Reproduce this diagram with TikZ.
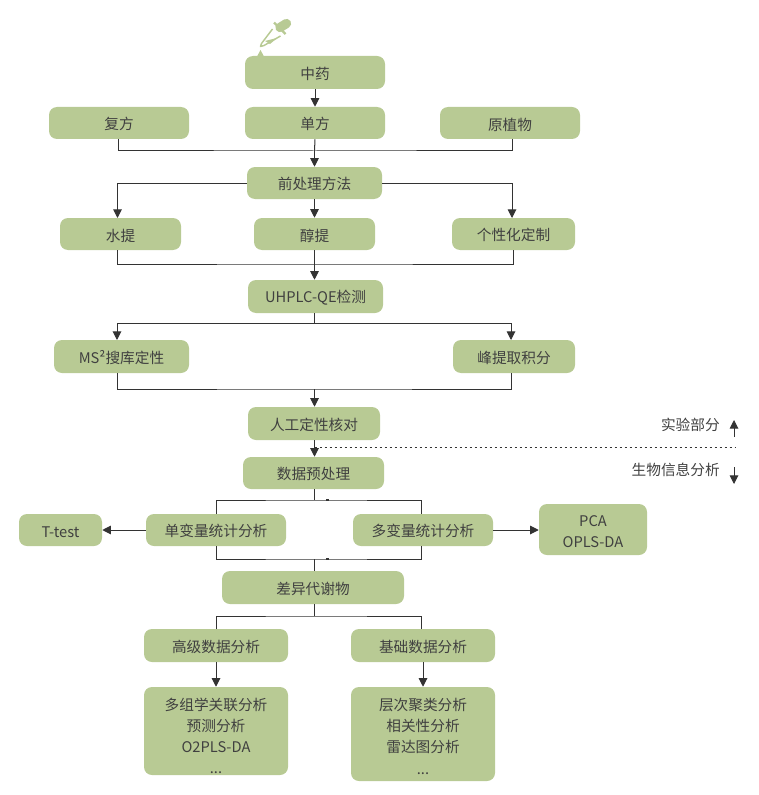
\documentclass[tikz,border=0pt]{standalone}
\usepackage{fontspec}
\setmainfont{Noto Sans CJK SC}
\usetikzlibrary{arrows.meta}
\definecolor{boxgreen}{HTML}{B8CA94}
\definecolor{txt}{HTML}{404040}
\definecolor{wire}{HTML}{333333}
\tikzset{
  bx/.style={fill=boxgreen,draw=none,rounded corners=6pt,text=txt,align=center,font=\fontsize{11pt}{15.75pt}\selectfont,inner sep=0pt},
  lbl/.style={text=txt,anchor=east,font=\fontsize{11pt}{15.75pt}\selectfont,inner sep=0pt},
  wr/.style={draw=wire,line width=0.75pt},
  ar/.style={wr,-{Triangle[length=6.5pt,width=6.5pt]}},
  pale/.style={boxgreen}
}
% #1 name, #2 x1, #3 y1, #4 x2, #5 y2, #6 text
\newcommand{\bxn}[6]{\node[bx,minimum width=#4*0.75pt-#2*0.75pt,minimum height=#5*0.75pt-#3*0.75pt] (#1) at ({(#2+#4)/2},{(#3+#5)/2}) {\rule{0pt}{11.4pt}#6};}
\begin{document}
\begin{tikzpicture}[x=0.75pt,y=-0.75pt]
\useasboundingbox (0,0) rectangle (758,795);
\bxn{zy}{245}{56}{385}{89}{中药}
\bxn{df}{245}{107}{385}{139}{单方}
\bxn{ff}{49}{107}{189}{139}{复方}
\bxn{yzw}{440}{107}{580}{139}{原植物}
\bxn{qcl}{247}{167}{382}{199}{前处理方法}
\bxn{st}{60}{218}{181}{250}{水提}
\bxn{ct}{254}{218}{375}{250}{醇提}
\bxn{gxh}{452}{218}{575}{250}{个性化定制}
\bxn{uh}{248}{280}{383}{313}{UHPLC-QE检测}
\bxn{ms}{54}{340}{189}{373}{MS²搜库定性}
\bxn{ft}{453}{340}{575}{373}{峰提取积分}
\bxn{rg}{248}{407}{380}{440}{人工定性核对}
\bxn{sj}{243}{457}{384}{489}{数据预处理}
\bxn{tt}{19}{514}{102}{546}{T-test}
\bxn{dan}{146}{514}{286}{546}{单变量统计分析}
\bxn{duo}{353}{514}{493}{546}{多变量统计分析}
\bxn{pca}{539}{504}{647}{555}{PCA\\OPLS-DA}
\bxn{cy}{222}{571}{404}{604}{差异代谢物}
\bxn{gj}{144}{629}{288}{662}{高级数据分析}
\bxn{jc}{351}{629}{495}{662}{基础数据分析}
\bxn{gl}{144}{687}{288}{775}{\rule{0pt}{16.5pt}多组学关联分析\\预测分析\\O2PLS-DA\\[0.4pt]...}
\bxn{jl}{351}{687}{495}{781}{\rule{0pt}{13pt}层次聚类分析\\相关性分析\\雷达图分析\\[0.8pt]...}
\node[lbl] (syb) at (720,424.5) {实验部分};
\node[lbl] (swx) at (720,470) {生物信息分析};

% dropper
\draw[pale,line width=7pt,line cap=round] (280,27.5) -- (286.5,23.5);
\draw[pale,line width=1.8pt] (274,22.5) -- (285.5,34);
\draw[pale,line width=1.1pt,line join=round] (272.5,29) -- (261.5,43.5) -- (260.5,46.5) -- (264,45.5) -- (280.5,36);
\fill[pale] (265,41) -- (277,38) -- (270,44) -- cycle;
\fill[pale] (260.5,50) -- (264,56.5) -- (257,56.5) -- cycle;

% connectors
\draw[ar] (zy) -- (df);
\coordinate (b1) at (314.5,151);
\draw[wr] (118,139) |- (b1) -| (512,139);
\draw[wr] (df.south) -- (b1);
\draw[ar] (b1) -- (qcl.north -| b1);
\draw[ar] (qcl.west) -| (117.5,218);
\draw[ar] (qcl.south -| ct.north) -- (ct.north);
\draw[ar] (qcl.east) -| (512,218);
\coordinate (b2) at (314.5,264);
\draw[wr] (117,250) |- (b2) -| (513,250);
\draw[wr] (ct.south) -- (b2);
\draw[ar] (b2) -- (uh.north -| b2);
\coordinate (b3) at (uh.south -| b2);
\coordinate (b3a) at (314.5,323);
\draw[wr] (b3) -- (b3a);
\draw[ar] (b3a) -| (117,340);
\draw[ar] (b3a) -| (511,340);
\coordinate (b4) at (314.5,389);
\draw[wr] (117,373) |- (b4) -| (511,373);
\draw[ar] (b4) -- (rg.north -| b4);
\draw[ar] (rg.south -| b4) -- (sj.north -| b4);
\coordinate (dotL) at (314.5,447);
\coordinate (dotR) at (736,447);
\draw[wire,line width=0.75pt,dash pattern=on 1.5pt off 2.25pt] (dotL) -- (dotR);
\coordinate (upa) at (734,437);
\coordinate (upb) at (734,420);
\coordinate (dna) at (734,467);
\coordinate (dnb) at (734,484);
\draw[ar] (upa) -- (upb);
\draw[ar] (dna) -- (dnb);
% split to stats
\coordinate (c1) at (314,500);
\draw[wr] (sj.south -| c1) -- (c1);
\draw[wr] (216,514) |- (c1) -| (421.5,514);
\draw[wire,line width=1.4pt] (326,500) -- (329,500);
\draw[ar] (dan.west) -- (tt.east);
\draw[ar] (duo.east) -- (pca.west |- duo.east);
\coordinate (c2) at (314,559);
\draw[wr] (216,546) |- (c2) -| (421.5,546);
\draw[wire,line width=1.4pt] (326,559) -- (329,559);
\draw[wr] (c2) -- (cy.north -| c2);
\coordinate (c3) at (314,616);
\draw[wr] (cy.south -| c3) -- (c3);
\draw[wr] (216,629) |- (c3) -| (421.5,629);
\draw[ar] (gj) -- (gl);
\draw[ar] (jc) -- (jl);
\end{tikzpicture}
\end{document}
